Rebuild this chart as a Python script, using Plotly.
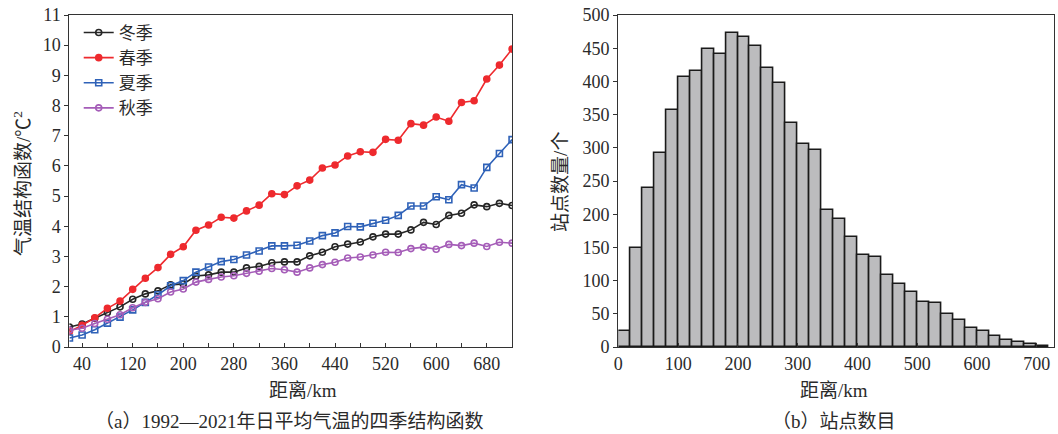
import plotly.graph_objects as go

# ---------------- data ----------------
dist_km = [20, 40, 60, 80, 100, 120, 140, 160, 180, 200, 220, 240, 260, 280, 300, 320,
           340, 360, 380, 400, 420, 440, 460, 480, 500, 520, 540, 560, 580, 600, 620,
           640, 660, 680, 700, 720]

winter = [0.66, 0.76, 0.95, 1.14, 1.33, 1.58, 1.76, 1.86, 2.06, 2.09, 2.35, 2.39, 2.48, 2.48,
          2.62, 2.67, 2.79, 2.82, 2.82, 3.02, 3.14, 3.32, 3.41, 3.48, 3.65, 3.74, 3.74, 3.88,
          4.13, 4.06, 4.36, 4.43, 4.71, 4.65, 4.76, 4.69]
spring = [0.51, 0.72, 0.97, 1.28, 1.52, 1.91, 2.28, 2.63, 3.07, 3.32, 3.87, 4.04, 4.30, 4.27,
          4.51, 4.70, 5.08, 5.05, 5.34, 5.53, 5.93, 6.03, 6.33, 6.47, 6.45, 6.88, 6.85, 7.40,
          7.35, 7.62, 7.48, 8.10, 8.16, 8.88, 9.34, 9.87]
summer = [0.30, 0.40, 0.57, 0.79, 0.99, 1.23, 1.48, 1.73, 2.03, 2.20, 2.48, 2.65, 2.83, 2.90,
          3.05, 3.18, 3.35, 3.35, 3.37, 3.51, 3.69, 3.78, 3.99, 3.98, 4.10, 4.20, 4.36, 4.67,
          4.67, 4.98, 4.88, 5.38, 5.27, 5.95, 6.41, 6.87]
autumn = [0.56, 0.62, 0.78, 0.92, 1.07, 1.30, 1.48, 1.60, 1.82, 1.92, 2.15, 2.24, 2.32, 2.36,
          2.44, 2.51, 2.60, 2.56, 2.48, 2.62, 2.73, 2.81, 2.95, 2.98, 3.05, 3.14, 3.13, 3.26,
          3.31, 3.24, 3.40, 3.36, 3.44, 3.33, 3.47, 3.44]

season_names = ["冬季", "春季", "夏季", "秋季"]

bin_centers = [10, 30, 50, 70, 90, 110, 130, 150, 170, 190, 210, 230, 250, 270, 290, 310,
               330, 350, 370, 390, 410, 430, 450, 470, 490, 510, 530, 550, 570, 590, 610,
               630, 650, 670, 690, 710]
station_counts = [24, 149, 240, 292, 357, 407, 416, 449, 441, 473, 467, 453, 420, 397, 338,
                  306, 297, 207, 193, 165, 139, 136, 108, 95, 83, 68, 66, 50, 41, 29, 24,
                  17, 11, 7, 5, 2]

left_xticks = [40, 120, 200, 280, 360, 440, 520, 600, 680]

# ---------------- styling ----------------
FONT = "Liberation Serif, Noto Sans CJK SC, serif"
TXT = "#2a2a2a"
W, H = 1058, 434
PT, PB = 15, 347  # plot area top/bottom in px


def px_x(p):
    return p / W


def px_y(p):
    return (PB - p) / (PB - PT)


fig = go.Figure()

styles = [
    dict(color="#262626", symbol="circle-open"),
    dict(color="#ee2a2e", symbol="circle"),
    dict(color="#2f62b8", symbol="square-open"),
    dict(color="#a55db8", symbol="circle-open"),
]
series = [winter, spring, summer, autumn]
for name, vals, st in zip(season_names, series, styles):
    fig.add_trace(go.Scatter(
        x=dist_km, y=vals, name=name, mode="lines+markers",
        line=dict(color=st["color"], width=1.6),
        marker=dict(symbol=st["symbol"], size=6, color=st["color"],
                    line=dict(color=st["color"], width=1.6)),
        xaxis="x", yaxis="y",
    ))

fig.add_trace(go.Bar(
    x=bin_centers, y=station_counts, width=20,
    marker=dict(color="#bcbcbe", line=dict(color="#1a1a1a", width=1.6)),
    xaxis="x2", yaxis="y2", showlegend=False,
))

axis_common = dict(showline=True, linecolor="#333333", linewidth=1.3, mirror=True,
                   showgrid=False, zeroline=False,
                   tickfont=dict(family=FONT, size=18, color=TXT),
                   tickcolor="#333333", ticklen=4, tickwidth=1.2)

fig.update_layout(
    width=W, height=H,
    margin=dict(l=0, r=0, t=PT, b=H - PB),
    paper_bgcolor="white", plot_bgcolor="white",
    font=dict(family=FONT, color=TXT),
    xaxis=dict(domain=[px_x(65.7), px_x(510)], range=[20, 720], anchor="y",
               tickmode="array", tickvals=left_xticks, ticks="inside",
               minor=dict(ticks="inside", tick0=0, dtick=40, ticklen=4,
                          tickcolor="#333333"),
               **axis_common),
    yaxis=dict(domain=[0, 1], range=[0, 11], anchor="x", dtick=1, ticks="outside",
               **axis_common),
    xaxis2=dict(domain=[px_x(616.7), px_x(1054)], range=[0, 729], anchor="y2",
                dtick=100, tick0=0, ticks="inside", **axis_common),
    yaxis2=dict(domain=[0, 1], range=[0, 500], anchor="x2", dtick=50, ticks="outside",
                **axis_common),
    legend=dict(x=px_x(75), y=px_y(15), xanchor="left", yanchor="top",
                bgcolor="rgba(0,0,0,0)",
                font=dict(family="Noto Sans CJK SC", size=17, color=TXT),
                itemwidth=30, tracegroupgap=0),
    showlegend=True,
    bargap=0,
)

ann_font = dict(family=FONT, size=19, color=TXT)
annotations = [
    dict(text="距离/km", x=px_x(300), y=px_y(390)),
    dict(text="距离/km", x=px_x(833), y=px_y(390)),
    dict(text="（a）1992—2021年日平均气温的四季结构函数", x=px_x(286), y=px_y(421)),
    dict(text="（b）站点数目", x=px_x(833), y=px_y(421)),
    dict(text="气温结构函数/℃<sup>2</sup>", x=px_x(18), y=px_y(183), textangle=-90),
    dict(text="站点数量/个", x=px_x(558), y=px_y(182), textangle=-90),
]
for a in annotations:
    fig.add_annotation(xref="paper", yref="paper", showarrow=False,
                       xanchor="center", yanchor="middle", font=ann_font, **a)

fig.write_html(
    "out.html",
    config={"displayModeBar": False},
    post_script="document.body.style.margin='0';document.body.style.padding='0';",
)
